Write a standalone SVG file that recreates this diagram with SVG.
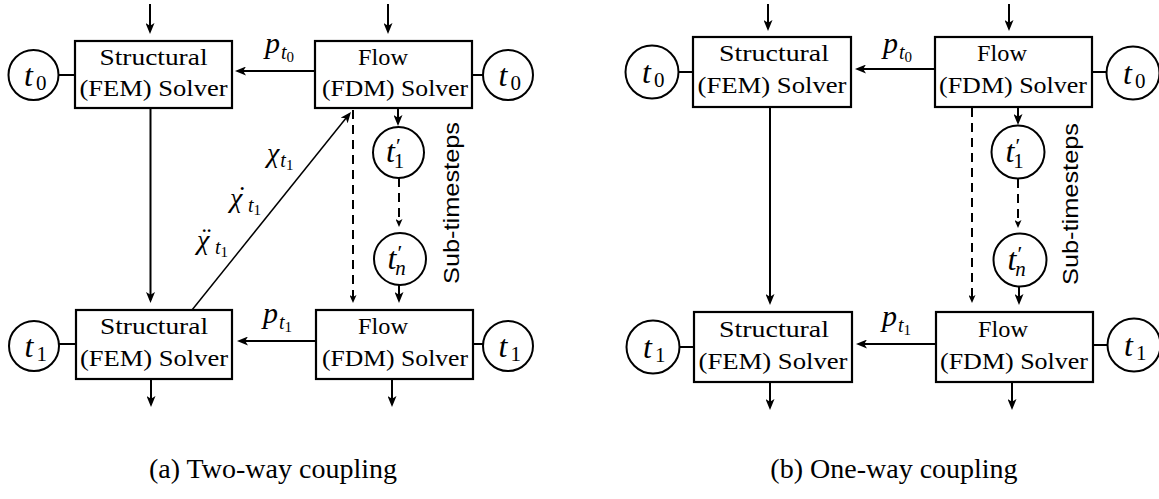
<svg xmlns="http://www.w3.org/2000/svg" width="1159" height="499" viewBox="0 0 1159 499">
<defs>
<style>
.box{fill:#fff;stroke:#000;stroke-width:2.2}
.circ{fill:#fff;stroke:#000;stroke-width:2}
.ln{stroke:#000;stroke-width:2;fill:none}
.thin{stroke-width:1.5}
.dash{stroke-dasharray:9 6}
.rm{font-family:"Liberation Serif","DejaVu Serif",serif;font-size:24px;text-anchor:middle;fill:#000}
.mi{font-family:"Liberation Serif","DejaVu Serif",serif;font-style:italic;fill:#000}
.up{font-style:normal}
.ss{font-family:"Liberation Sans",Arial,sans-serif;font-size:22px;text-anchor:middle;fill:#000}
.cap{font-family:"Liberation Serif","DejaVu Serif",serif;font-size:28px;text-anchor:middle;fill:#000}
</style>
<marker id="ah" viewBox="0 0 11 9" refX="8" refY="4.5" markerWidth="11" markerHeight="9" orient="auto" markerUnits="userSpaceOnUse"><path d="M0,0 L11,4.5 L0,9 L2.8,4.5 z" fill="#000"/></marker>
<marker id="ahs" viewBox="0 0 8 7" refX="5" refY="3.5" markerWidth="8" markerHeight="7" orient="auto" markerUnits="userSpaceOnUse"><path d="M0,0 L8,3.5 L0,7 L2,3.5 z" fill="#000"/></marker>
</defs>
<rect width="1159" height="499" fill="#fff"/>

<g id="connectors">
<!-- (a) -->
<line class="ln" x1="150" y1="4" x2="150" y2="31" marker-end="url(#ah)"/>
<line class="ln" x1="388" y1="4" x2="388" y2="31" marker-end="url(#ah)"/>
<line class="ln" x1="315" y1="71" x2="238" y2="71" marker-end="url(#ah)"/>
<line class="ln" x1="150.5" y1="108" x2="150.5" y2="300" marker-end="url(#ah)"/>
<line class="ln thin" x1="192" y1="310" x2="349.1" y2="114.3" marker-end="url(#ah)"/>
<line class="ln dash" x1="353" y1="110" x2="353" y2="300" marker-end="url(#ahs)"/>
<line class="ln" x1="398" y1="108" x2="398" y2="123" marker-end="url(#ah)"/>
<line class="ln dash" x1="399" y1="178" x2="399" y2="224" stroke-dasharray="8 8" marker-end="url(#ahs)"/>
<line class="ln" x1="399" y1="285" x2="399" y2="300" marker-end="url(#ah)"/>
<line class="ln" x1="316" y1="341" x2="240" y2="341" marker-end="url(#ah)"/>
<line class="ln" x1="151" y1="379" x2="151" y2="404" marker-end="url(#ah)"/>
<line class="ln" x1="392" y1="379" x2="392" y2="404" marker-end="url(#ah)"/>
<line class="ln" x1="58.5" y1="75" x2="75" y2="75"/>
<line class="ln" x1="472" y1="75" x2="483" y2="75"/>
<line class="ln" x1="59" y1="344" x2="76" y2="344"/>
<line class="ln" x1="473" y1="344" x2="483" y2="344"/>
<!-- (b) -->
<line class="ln" x1="768" y1="4" x2="768" y2="28" marker-end="url(#ah)"/>
<line class="ln" x1="1009" y1="4" x2="1009" y2="28" marker-end="url(#ah)"/>
<line class="ln" x1="934" y1="69" x2="858" y2="69" marker-end="url(#ah)"/>
<line class="ln" x1="770" y1="107" x2="770" y2="302" marker-end="url(#ah)"/>
<line class="ln dash" x1="972" y1="108" x2="972" y2="300" marker-end="url(#ahs)"/>
<line class="ln" x1="1018" y1="107" x2="1018" y2="122" marker-end="url(#ah)"/>
<line class="ln dash" x1="1018" y1="179" x2="1018" y2="225" stroke-dasharray="8 8" marker-end="url(#ahs)"/>
<line class="ln" x1="1019" y1="287" x2="1019" y2="302" marker-end="url(#ah)"/>
<line class="ln" x1="936" y1="344" x2="859" y2="344" marker-end="url(#ah)"/>
<line class="ln" x1="770" y1="382" x2="770" y2="407" marker-end="url(#ah)"/>
<line class="ln" x1="1012" y1="382" x2="1012" y2="407" marker-end="url(#ah)"/>
<line class="ln" x1="678.5" y1="72" x2="693" y2="72"/>
<line class="ln" x1="1092" y1="72" x2="1106.5" y2="72"/>
<line class="ln" x1="679.5" y1="347" x2="694" y2="347"/>
<line class="ln" x1="1093" y1="345" x2="1107.5" y2="345"/>
</g>

<g id="labels">
<!-- (a) p labels -->
<text class="mi" x="265" y="53" font-size="30">p<tspan font-size="20" dx="1" dy="6">t</tspan><tspan class="up" font-size="15" dy="3">0</tspan></text>
<text class="mi" x="263" y="323" font-size="30">p<tspan font-size="20" dx="1" dy="6">t</tspan><tspan class="up" font-size="15" dy="3">1</tspan></text>
<!-- chi labels -->
<text class="mi" x="267" y="162" font-size="28">χ<tspan font-size="20" dx="1" dy="5">t</tspan><tspan class="up" font-size="15" dy="3">1</tspan></text>
<text class="mi" x="230" y="207" font-size="28">χ<tspan class="up" x="237.5" y="205">˙</tspan><tspan x="248" y="212" font-size="20">t</tspan><tspan class="up" font-size="15" dy="3">1</tspan></text>
<text class="mi" x="197" y="249" font-size="28">χ<tspan class="up" x="202" y="247">¨</tspan><tspan x="215" y="254" font-size="20">t</tspan><tspan class="up" font-size="15" dy="3">1</tspan></text>
<text class="ss" transform="translate(459,203) rotate(-90)" textLength="162" lengthAdjust="spacingAndGlyphs">Sub-timesteps</text>
<text class="cap" x="273" y="478">(a) Two-way coupling</text>
<!-- (b) -->
<text class="mi" x="883" y="53" font-size="30">p<tspan font-size="20" dx="1" dy="6">t</tspan><tspan class="up" font-size="15" dy="3">0</tspan></text>
<text class="mi" x="882" y="326" font-size="30">p<tspan font-size="20" dx="1" dy="6">t</tspan><tspan class="up" font-size="15" dy="3">1</tspan></text>
<text class="ss" transform="translate(1078,204) rotate(-90)" textLength="162" lengthAdjust="spacingAndGlyphs">Sub-timesteps</text>
<text class="cap" x="894" y="478">(b) One-way coupling</text>
</g>

<!-- (a) nodes -->
<g id="a-struct-t0"><rect class="box" x="75" y="41" width="157" height="67"/><text class="rm" x="153.5" y="65" textLength="108" lengthAdjust="spacingAndGlyphs">Structural</text><text class="rm" x="153.5" y="96" textLength="148" lengthAdjust="spacingAndGlyphs">(FEM) Solver</text></g>
<g id="a-flow-t0"><rect class="box" x="315" y="41" width="157" height="67"/><text class="rm" x="383" y="65" textLength="50" lengthAdjust="spacingAndGlyphs">Flow</text><text class="rm" x="395" y="96" textLength="146" lengthAdjust="spacingAndGlyphs">(FDM) Solver</text></g>
<g id="a-struct-t1"><rect class="box" x="76" y="310" width="156" height="69"/><text class="rm" x="154" y="334" textLength="108" lengthAdjust="spacingAndGlyphs">Structural</text><text class="rm" x="154" y="366" textLength="148" lengthAdjust="spacingAndGlyphs">(FEM) Solver</text></g>
<g id="a-flow-t1"><rect class="box" x="316" y="310" width="157" height="69"/><text class="rm" x="383" y="334" textLength="50" lengthAdjust="spacingAndGlyphs">Flow</text><text class="rm" x="395" y="366" textLength="146" lengthAdjust="spacingAndGlyphs">(FDM) Solver</text></g>
<g id="a-t0-left"><circle class="circ" cx="33.5" cy="75" r="25"/><text class="mi" x="24" y="86" font-size="32">t<tspan class="up" font-size="21" dx="3" dy="4">0</tspan></text></g>
<g id="a-t0-right"><circle class="circ" cx="508" cy="75" r="25"/><text class="mi" x="498.5" y="86" font-size="32">t<tspan class="up" font-size="21" dx="3" dy="4">0</tspan></text></g>
<g id="a-t1-left"><circle class="circ" cx="34" cy="346" r="25"/><text class="mi" x="24.5" y="357" font-size="32">t<tspan class="up" font-size="21" dx="3" dy="4">1</tspan></text></g>
<g id="a-t1-right"><circle class="circ" cx="508" cy="346" r="25"/><text class="mi" x="498.5" y="357" font-size="32">t<tspan class="up" font-size="21" dx="3" dy="4">1</tspan></text></g>
<g id="a-t1p"><circle class="circ" cx="398.5" cy="152.5" r="25.5"/><text class="mi" x="386" y="162" font-size="32">t<tspan class="up" font-size="22" dx="1" dy="-9">′</tspan><tspan class="up" font-size="21" dx="-7" dy="15">1</tspan></text></g>
<g id="a-tnp"><circle class="circ" cx="400" cy="259" r="26"/><text class="mi" x="387.5" y="269" font-size="32">t<tspan class="up" font-size="22" dx="1" dy="-9">′</tspan><tspan font-size="21" dx="-7" dy="15">n</tspan></text></g>

<!-- (b) nodes -->
<g id="b-struct-t0"><rect class="box" x="693" y="37" width="158" height="70"/><text class="rm" x="774" y="61" textLength="110" lengthAdjust="spacingAndGlyphs">Structural</text><text class="rm" x="772" y="93" textLength="149" lengthAdjust="spacingAndGlyphs">(FEM) Solver</text></g>
<g id="b-flow-t0"><rect class="box" x="935" y="37" width="157" height="70"/><text class="rm" x="1002" y="61" textLength="50" lengthAdjust="spacingAndGlyphs">Flow</text><text class="rm" x="1013" y="93" textLength="148" lengthAdjust="spacingAndGlyphs">(FDM) Solver</text></g>
<g id="b-struct-t1"><rect class="box" x="694" y="312" width="158" height="70"/><text class="rm" x="774" y="337" textLength="110" lengthAdjust="spacingAndGlyphs">Structural</text><text class="rm" x="773" y="369" textLength="149" lengthAdjust="spacingAndGlyphs">(FEM) Solver</text></g>
<g id="b-flow-t1"><rect class="box" x="936" y="312" width="157" height="70"/><text class="rm" x="1003" y="337" textLength="50" lengthAdjust="spacingAndGlyphs">Flow</text><text class="rm" x="1014" y="369" textLength="148" lengthAdjust="spacingAndGlyphs">(FDM) Solver</text></g>
<g id="b-t0-left"><circle class="circ" cx="652" cy="72" r="26.5"/><text class="mi" x="642" y="83" font-size="32">t<tspan class="up" font-size="21" dx="3" dy="4">0</tspan></text></g>
<g id="b-t0-right"><circle class="circ" cx="1133" cy="73" r="26.5"/><text class="mi" x="1123" y="84" font-size="32">t<tspan class="up" font-size="21" dx="3" dy="4">0</tspan></text></g>
<g id="b-t1-left"><circle class="circ" cx="653" cy="347" r="26.5"/><text class="mi" x="643" y="358" font-size="32">t<tspan class="up" font-size="21" dx="3" dy="4">1</tspan></text></g>
<g id="b-t1-right"><circle class="circ" cx="1134" cy="345" r="26.5"/><text class="mi" x="1124" y="356" font-size="32">t<tspan class="up" font-size="21" dx="3" dy="4">1</tspan></text></g>
<g id="b-t1p"><circle class="circ" cx="1018" cy="152" r="26.5"/><text class="mi" x="1005.5" y="162" font-size="32">t<tspan class="up" font-size="22" dx="1" dy="-9">′</tspan><tspan class="up" font-size="21" dx="-7" dy="15">1</tspan></text></g>
<g id="b-tnp"><circle class="circ" cx="1020" cy="260" r="26.5"/><text class="mi" x="1007.5" y="270" font-size="32">t<tspan class="up" font-size="22" dx="1" dy="-9">′</tspan><tspan font-size="21" dx="-7" dy="15">n</tspan></text></g>
</svg>
